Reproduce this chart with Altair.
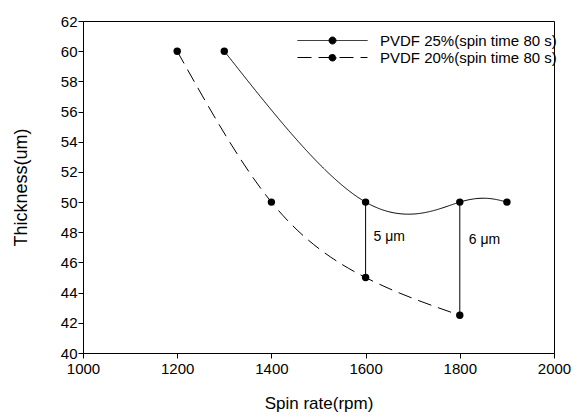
import altair as alt
import pandas as pd

# Data
series_names = ["PVDF 25%(spin time 80 s)", "PVDF 20%(spin time 80 s)"]
rate_25 = [1300, 1600, 1800, 1900]
thick_25 = [60, 50, 50, 50]
rate_20 = [1200, 1400, 1600, 1800]
thick_20 = [60, 50, 45, 42.5]

gap_x = [1600, 1800]
gap_low = [45, 42.5]
gap_high = [50, 50]
gap_label = ["5 μm", "6 μm"]
gap_label_x = [1617, 1819]
gap_label_y = [47.7, 47.5]

x_ticks = [1000, 1200, 1400, 1600, 1800, 2000]
y_ticks = [40, 42, 44, 46, 48, 50, 52, 54, 56, 58, 60, 62]

FONT = "Liberation Sans"

df = pd.DataFrame(
    {
        "series": [series_names[0]] * len(rate_25) + [series_names[1]] * len(rate_20),
        "rate": rate_25 + rate_20,
        "thick": thick_25 + thick_20,
    }
)
gaps = pd.DataFrame({"rate": gap_x, "thick": gap_low, "hi": gap_high})
labels = pd.DataFrame({"rate": gap_label_x, "thick": gap_label_y, "t": gap_label})

xscale = alt.Scale(domain=[1000, 2000], nice=False, zero=False)
yscale = alt.Scale(domain=[40, 62], nice=False, zero=False)

xaxis = alt.Axis(
    values=x_ticks, title="Spin rate(rpm)", grid=False, tickSize=5, format="d",
    labelFontSize=15, titleFontSize=17, titleFontWeight="normal",
    labelPadding=3, titlePadding=19, labelFlush=False, labelOverlap=False,
)
yaxis = alt.Axis(
    values=y_ticks, title="Thickness(um)", grid=False, tickSize=5, format="d",
    labelFontSize=15, titleFontSize=18, titleFontWeight="normal",
    labelPadding=1, titlePadding=30, labelFlush=False, labelOverlap=False,
)

X = alt.X("rate:Q", scale=xscale, axis=xaxis)
Y = alt.Y("thick:Q", scale=yscale, axis=yaxis)

legend_symbol = (
    "M-7,0L7,0M0.7,0A0.7,0.7,0,1,1,-0.7,0A0.7,0.7,0,1,1,0.7,0Z"
)

lines = alt.Chart(df).mark_line(
    interpolate="natural", color="black", strokeWidth=1
).encode(
    x=X,
    y=Y,
    strokeDash=alt.StrokeDash(
        "series:N",
        sort=series_names,
        scale=alt.Scale(domain=series_names, range=[[1, 0], [14, 7]]),
        legend=alt.Legend(
            title=None,
            orient="none",
            legendX=242,
            legendY=12,
            symbolType=legend_symbol,
            symbolSize=100,
            symbolFillColor="black",
            symbolStrokeColor="black",
            symbolStrokeWidth=1,
            labelOffset=40,
            labelFontSize=15,
            labelFont=FONT,
            labelColor="black",
            labelLimit=400,
            rowPadding=1,
            padding=0,
        ),
    ),
)

points = alt.Chart(df).mark_point(
    filled=True, shape="circle", size=55, color="black", opacity=1
).encode(x=X, y=Y)

rules = alt.Chart(gaps).mark_rule(color="black", strokeWidth=1).encode(
    x=X, y=Y, y2="hi:Q"
)

texts = alt.Chart(labels).mark_text(
    align="left", baseline="middle", fontSize=14, font=FONT, color="black"
).encode(x=X, y=Y, text="t:N")

chart = (
    alt.layer(lines, points, rules, texts)
    .properties(
        width=471,
        height=332,
        autosize=alt.AutoSizeParams(type="none"),
        padding={"left": 83, "top": 21, "right": 28, "bottom": 66},
        background="white",
    )
    .configure_view(stroke="black", strokeWidth=1)
    .configure_axis(
        domainColor="black", tickColor="black", labelColor="black",
        titleColor="black", labelFont=FONT, titleFont=FONT,
    )
)

chart.save("out.html", embed_options={"renderer": "svg", "actions": False})
